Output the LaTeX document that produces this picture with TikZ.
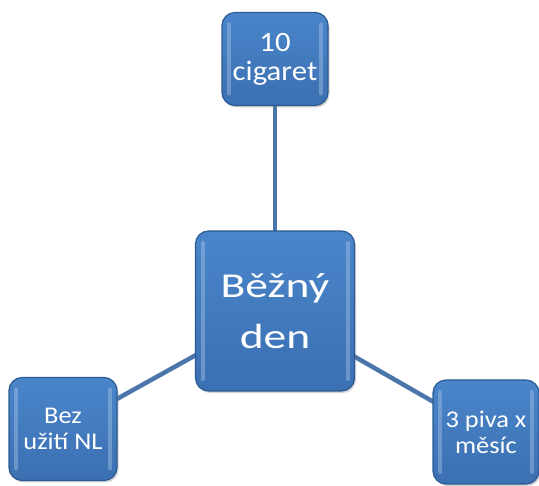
\documentclass[tikz,border=0pt]{standalone}
\usepackage{fontspec}
\setmainfont{Carlito}[FakeStretch=1.1]
\newfontfamily\widefont{Carlito}[FakeStretch=1.3]
\usetikzlibrary{backgrounds,shadows}

\definecolor{boxblue}{HTML}{3B70B2}
\definecolor{boxlight}{HTML}{4A85CA}
\definecolor{boxdark}{HTML}{2C5A92}
\definecolor{linkblue}{HTML}{4A76AC}

\tikzset{
  box/.style={rectangle, rounded corners=13pt, draw=boxdark, line width=1.2pt,
    top color=boxlight, bottom color=boxblue, text=white, align=center,
    drop shadow={shadow xshift=1.5pt, shadow yshift=-2pt, opacity=0.35},
    inner sep=0pt,
    path picture={
      \draw[boxlight!50!white, opacity=0.45, line width=4pt, line cap=round]
        ([shift={(7pt,12pt)}]path picture bounding box.south west) --
        ([shift={(7pt,-12pt)}]path picture bounding box.north west);
      \draw[boxlight!50!white, opacity=0.45, line width=4pt, line cap=round]
        ([shift={(-7pt,12pt)}]path picture bounding box.south east) --
        ([shift={(-7pt,-12pt)}]path picture bounding box.north east);
    }},
  link/.style={draw=linkblue, line width=4.5pt}
}

\begin{document}
\begin{tikzpicture}[x=1pt, y=1pt]
  \useasboundingbox (0,0) rectangle (539,486);

  % Center and the three satellites
  \node[box, minimum width=159pt, minimum height=160pt,
        font=\widefont\fontsize{35}{51}\selectfont] (den) at (275,175) {Běžný\\den};
  \node[box, minimum width=106pt, minimum height=93pt,
        font=\fontsize{28}{29}\selectfont] (cig) at (275,427) {10\\cigaret};
  \node[box, minimum width=108pt, minimum height=103pt,
        font=\fontsize{24}{26}\selectfont] (bez) at (63,57) {Bez\\užití NL};
  \node[box, minimum width=106pt, minimum height=104pt,
        font=\fontsize{24}{26}\selectfont] (piva) at (486,54) {3 piva x\\měsíc};

  % Connectors behind the boxes
  \begin{scope}[on background layer]
    \draw[link] (den.center) -- (cig.center);
    \draw[link] (den.center) -- (bez.center);
    \draw[link] (den.center) -- (piva.center);
  \end{scope}
\end{tikzpicture}
\end{document}
